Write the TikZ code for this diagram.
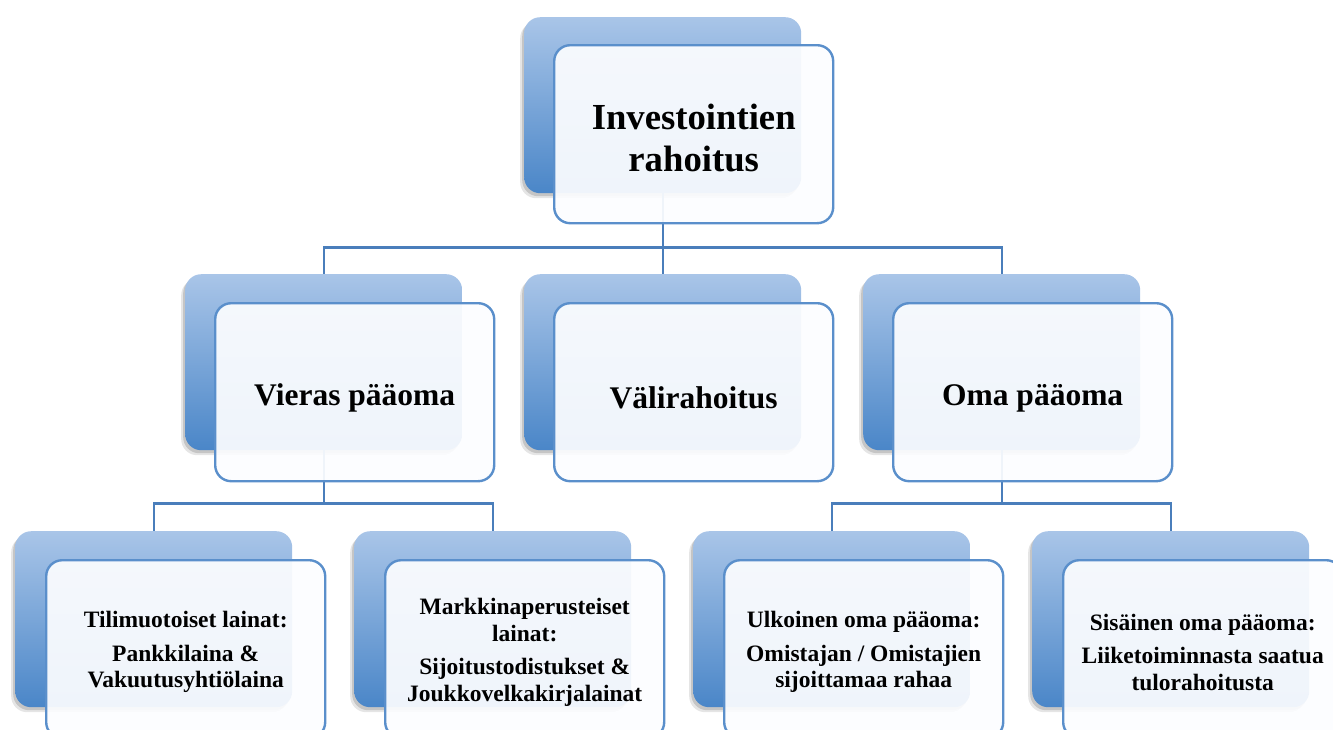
\documentclass[tikz,border=0pt]{standalone}
\usepackage{fontspec}
\setmainfont{Liberation Serif}
\usetikzlibrary{shadows}

\definecolor{backtop}{HTML}{A9C5E8}
\definecolor{backbot}{HTML}{4A86C8}
\definecolor{frontline}{HTML}{5A8FCB}
\definecolor{connline}{HTML}{4A7EBB}
\definecolor{frontfill}{HTML}{FCFDFF}

% centred block of lines, lowered by #1 without changing its reported size
\newcommand{\lbl}[2]{\raisebox{-#1}[\height][\depth]{\parbox{265pt}{\centering #2}}}

\tikzset{
  backbox/.style={rectangle, rounded corners=16pt, minimum width=277pt,
    minimum height=176pt, anchor=north west, inner sep=0pt,
    top color=backtop, bottom color=backbot, draw=none,
    drop shadow={shadow xshift=-4pt, shadow yshift=-5pt, opacity=0.10, fill=black},
    drop shadow={shadow xshift=-2pt, shadow yshift=-3pt, opacity=0.14, fill=black}},
  frontbox/.style={rectangle, rounded corners=16pt, minimum width=279pt,
    minimum height=178pt, anchor=north west, inner sep=4pt,
    draw=frontline, line width=2.4pt, fill=frontfill, fill opacity=0.93,
    text opacity=1},
  topfont/.style={font=\bfseries\fontsize{36.7}{42}\selectfont},
  midfont/.style={font=\bfseries\fontsize{31.5}{36}\selectfont},
  lowfont/.style={font=\bfseries\fontsize{23.5}{26.5}\selectfont},
  conn/.style={draw=connline, line width=2.4pt}
}

\begin{document}
\begin{tikzpicture}[x=1pt,y=-1pt]
\useasboundingbox (0,0) rectangle (1333,729);
\clip (0,0) rectangle (1333,729);

% back panels
\node[backbox] (bT)  at (524,17)  {};
\node[backbox] (bV)  at (185,274) {};
\node[backbox] (bVa) at (524,274) {};
\node[backbox] (bO)  at (863,274) {};
\node[backbox] (bTi) at (15,531)  {};
\node[backbox] (bMa) at (354,531) {};
\node[backbox] (bUl) at (693,531) {};
\node[backbox] (bSi) at (1032,531) {};

% connectors, running beneath the front panels
\draw[conn] (bT.south) -- ++(0,54) coordinate (jT) -| (bV.north);
\draw[conn] (jT) -| (bVa.north);
\draw[conn] (jT) -| (bO.north);
\draw[conn] (bV.south) -- ++(0,53) coordinate (jV) -| (bTi.north);
\draw[conn] (jV) -| (bMa.north);
\draw[conn] (bO.south) -- ++(0,53) coordinate (jO) -| (bUl.north);
\draw[conn] (jO) -| (bSi.north);

% front panels with their labels
\node[frontbox, topfont] (fT)  at (553,44)  {\lbl{4pt}{Investointien\\rahoitus}};
\node[frontbox, midfont] (fV)  at (214,302) {\lbl{6pt}{Vieras pääoma}};
\node[frontbox, midfont] (fVa) at (553,302) {\lbl{6pt}{Välirahoitus}};
\node[frontbox, midfont] (fO)  at (892,302) {\lbl{6pt}{Oma pääoma}};
\node[frontbox, lowfont] (fTi) at (45,559)  {\lbl{3pt}{Tilimuotoiset lainat:\\[7pt]Pankkilaina \&\\Vakuutusyhtiölaina}};
\node[frontbox, lowfont] (fMa) at (384,559) {\lbl{3pt}{Markkinaperusteiset\\lainat:\\[7pt]Sijoitustodistukset \&\\Joukkovelkakirjalainat}};
\node[frontbox, lowfont] (fUl) at (723,559) {\lbl{3pt}{Ulkoinen oma pääoma:\\[7pt]Omistajan / Omistajien\\sijoittamaa rahaa}};
\node[frontbox, lowfont] (fSi) at (1062,559) {\lbl{3pt}{Sisäinen oma pääoma:\\[7pt]Liiketoiminnasta saatua\\tulorahoitusta}};
\end{tikzpicture}
\end{document}
